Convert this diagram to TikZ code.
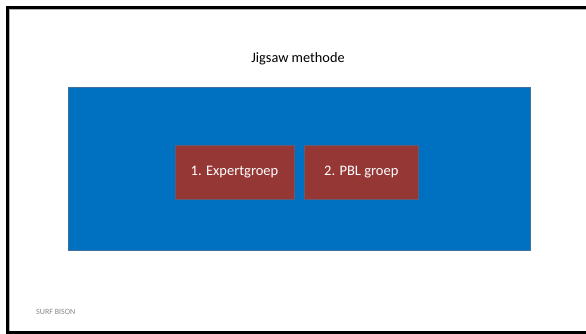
\documentclass[tikz,border=0pt]{standalone}
\usepackage{fontspec}
\setmainfont{Carlito}
\definecolor{slideblue}{HTML}{0070C0}
\definecolor{blueedge}{HTML}{41719C}
\definecolor{boxred}{HTML}{953735}
\definecolor{footgray}{HTML}{898989}
\begin{document}
\begin{tikzpicture}[x=1pt,y=1pt,
  redbox/.style={draw=blueedge!60!boxred,line width=0.8pt,fill=boxred,text=white,
    minimum width=119pt,minimum height=54pt,inner sep=0pt,font=\fontsize{14.5}{17}\selectfont},
]
\useasboundingbox (0,0) rectangle (586,334);
\fill[white] (0,0) rectangle (586,334);
% slide frame
\draw[gray!60,line width=0.8pt] (586,324.5) -- (9.5,324.5) -- (9.5,2.5) -- (586,2.5);
\draw[black,line width=3pt] (586,326.5) -- (7.5,326.5) -- (7.5,1) -- (586,1);
% title
\node (title) at (298,275) {\fontsize{14.3}{17}\selectfont Jigsaw methode};
% blue panel
\node (panel) [draw=blueedge,line width=0.8pt,fill=slideblue,minimum width=462pt,minimum height=163pt,inner sep=0pt] at (299,165.5) {};
% boxes
\node (b1) [redbox] at (234.5,162) {1. Expertgroep};
\node (b2) [redbox,minimum width=114pt] at (361.3,162) {2. PBL groep};
% footer
\node (foot) [anchor=west,text=footgray,font=\fontsize{8}{9}\selectfont,inner sep=0pt] at (36,22) {SURF BISON};
\end{tikzpicture}
\end{document}
